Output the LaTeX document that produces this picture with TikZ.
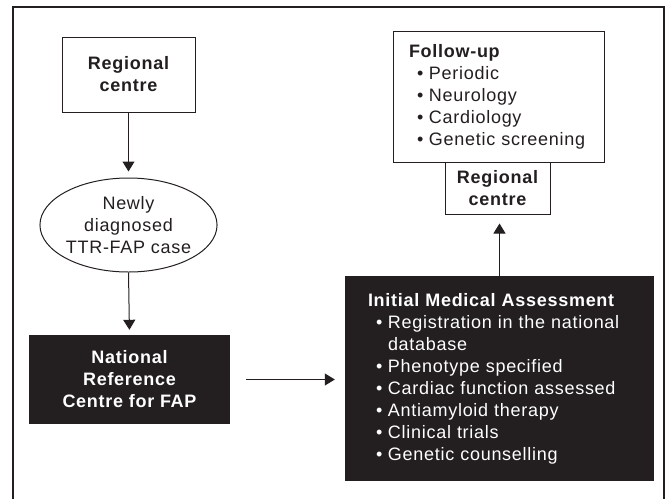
\documentclass[tikz,border=0pt]{standalone}
\usepackage{fontspec}
\setmainfont{Liberation Sans}[LetterSpace=4]
\usetikzlibrary{shapes.geometric,arrows.meta}
\definecolor{ink}{HTML}{231F20}
\newcommand{\itm}[1]{\hspace*{8pt}\makebox[12pt][l]{\textbullet}#1}
\newcommand{\cnt}[1]{\hspace*{20pt}#1}
\begin{document}
\begin{tikzpicture}[x=1pt,y=-1pt,
  every node/.style={font=\fontsize{18}{22}\selectfont, text=ink},
  whitebox/.style={draw=ink, line width=1pt, fill=white, inner sep=0pt},
  blackbox/.style={fill=ink, text=white, inner sep=0pt},
  oval/.style={ellipse, draw=ink, line width=1pt, inner sep=0pt, align=center},
  conn/.style={draw=ink, line width=1pt, -{Triangle[width=12pt,length=10pt]}},
  hd/.style={font=\fontsize{18}{22}\selectfont\bfseries},
]
\useasboundingbox (0,0) rectangle (672,499);
\draw[ink, line width=1.5pt] (13,499) -- (13,7) -- (664,7) -- (664,499);

\node[whitebox, hd, minimum width=133, minimum height=75, align=center] (rc1) at (128.5,74.5) {Regional\\centre};
\node[oval, minimum width=167, minimum height=94] (case) at (128.5,225) {Newly\\diagnosed\\TTR-FAP case};
\node[blackbox, hd, text=white, minimum width=201, minimum height=89, align=center] (nrc) at (129.5,379.5) {National\\Reference\\Centre for FAP};

\node[blackbox, minimum width=309, minimum height=205, text width=263, align=left] (ima) at (499.5,378.5)
  {{\bfseries Initial Medical Assessment}\\
   \itm{Registration in the national}\\
   \cnt{database}\\
   \itm{Phenotype specified}\\
   \itm{Cardiac function assessed}\\
   \itm{Antiamyloid therapy}\\
   \itm{Clinical trials}\\
   \itm{Genetic counselling}};

\node[whitebox, minimum width=211, minimum height=131, text width=179, align=left] (fu) at (498.5,96.5)
  {{\bfseries Follow-up}\\
   \itm{Periodic}\\
   \itm{Neurology}\\
   \itm{Cardiology}\\
   \itm{Genetic screening}};
\node[whitebox, hd, minimum width=105, minimum height=52, align=center] (rc2) at (497.5,188) {Regional\\centre};

\draw[conn, shorten >=6pt] (rc1.south) -- (case.north);
\draw[conn, shorten >=5pt] (case.south) -- (nrc.north);
\draw[conn, shorten <=16pt, shorten >=10pt] (nrc.east) -- (nrc.east -| ima.west);
\draw[conn, shorten >=9pt] (ima.north) -- (ima.north |- rc2.south);
\end{tikzpicture}
\end{document}
